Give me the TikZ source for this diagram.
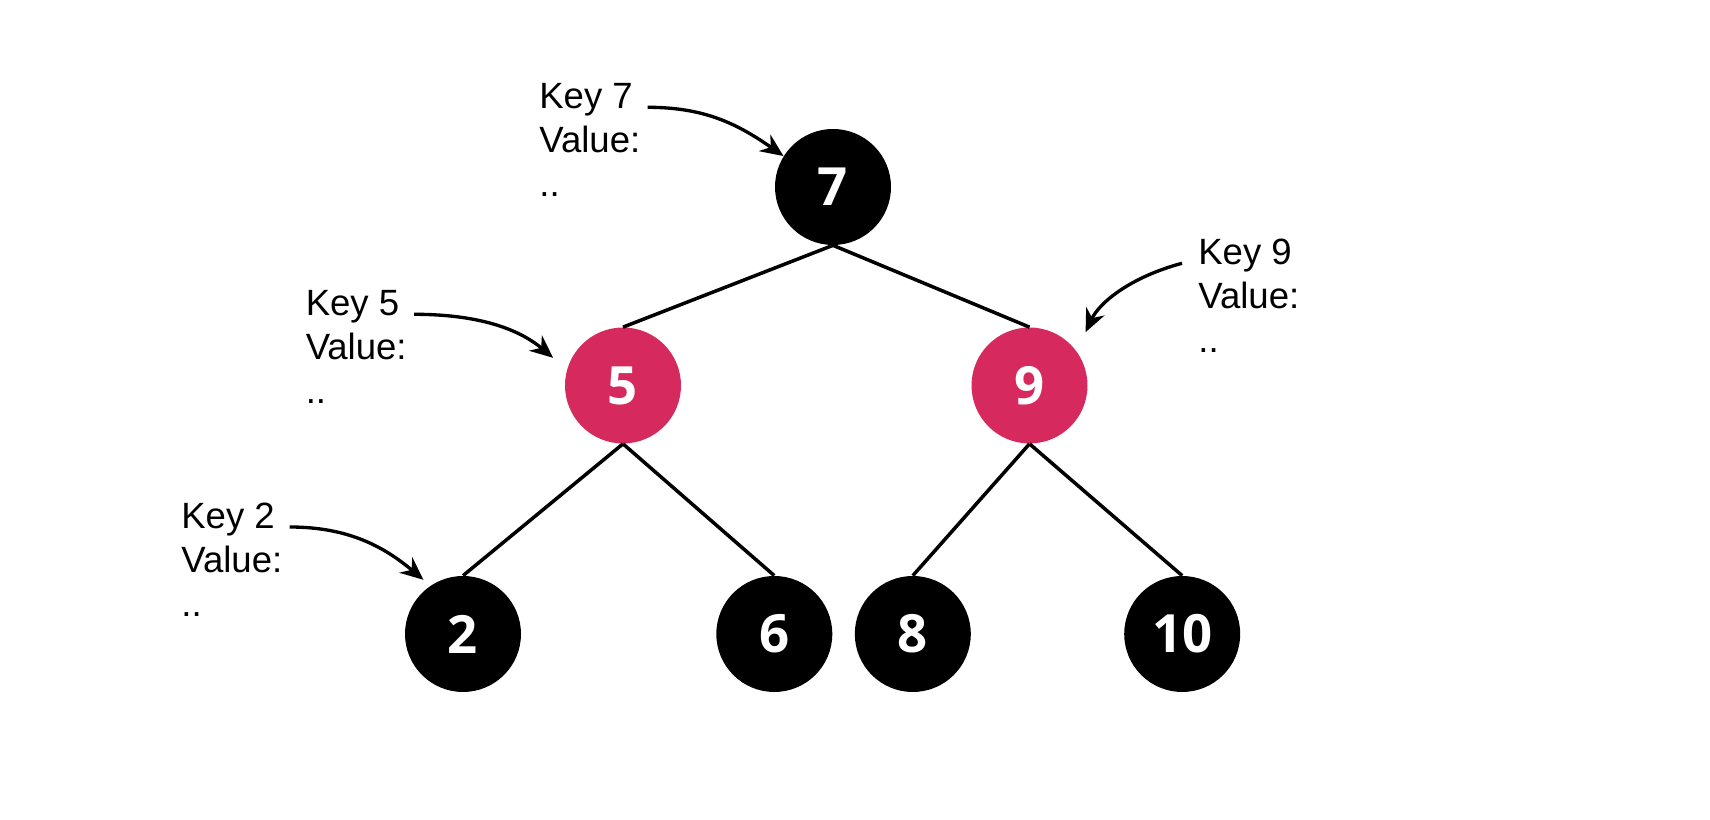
\documentclass[tikz,border=0pt]{standalone}
\usepackage{fontspec}
\setmainfont{Liberation Sans}
\newfontfamily\digitfont{Open Sans}
\usetikzlibrary{arrows.meta}
\definecolor{rbred}{HTML}{D62A5E}

\begin{document}
\begin{tikzpicture}[
    x = 0.02cm,
    y = 0.02cm,
    treenode/.style = {
        circle,
        minimum size = 2.32cm,
        inner sep = 0pt,
        text = white,
        font = \digitfont\bfseries\fontsize{30}{30}\selectfont
    },
    blacknode/.style = {treenode, fill = black},
    rednode/.style = {treenode, fill = rbred},
    keylabel/.style = {
        anchor = north west,
        align = left,
        inner sep = 0pt,
        font = \fontsize{20.8}{25}\selectfont
    },
    edge/.style = {line width = 2pt},
    pointer/.style = {-{Stealth[length = 0.46cm, width = 0.4cm]}, line width = 1.9pt}
]

\useasboundingbox (0, 0) rectangle (1710, 820);

% Tree nodes
\node[blacknode] (n7) at (833, 633) {7};
\node[rednode] (n5) at (623, 434.5) {5};
\node[rednode] (n9) at (1029.5, 434.5) {9};
\node[blacknode] (n2) at (463, 186) {2};
\node[blacknode] (n6) at (774.3, 186) {6};
\node[blacknode] (n8) at (912.8, 186) {8};
\node[blacknode] (n10) at (1182.2, 186) {10};

% Tree edges
\draw[edge] (n7.south) -- (n5.north);
\draw[edge] (n7.south) -- (n9.north);
\draw[edge] (n5.south) -- (n2.north);
\draw[edge] (n5.south) -- (n6.north);
\draw[edge] (n9.south) -- (n8.north);
\draw[edge] (n9.south) -- (n10.north);

% Key / value labels
\node[keylabel] (k7) at (539, 736.7) {Key 7 \\ Value: \\ ..};
\node[keylabel] (k5) at (305.4, 529.7) {Key 5 \\ Value: \\ ..};
\node[keylabel] (k2) at (181, 317) {Key 2 \\ Value: \\ ..};
\node[keylabel] (k9) at (1198, 581.7) {Key 9 \\ Value: \\ ..};

% Pointers to the nodes
\draw[pointer] ([shift = {(7, -24)}]k7.north east) to[out = 0, in = 145] (n7.148);
\draw[pointer, shorten > = 0.36cm] ([shift = {(7, -24)}]k5.north east) to[out = 0, in = 140] (n5.164);
\draw[pointer, shorten > = 0.18cm] ([shift = {(7, -24)}]k2.north east) to[out = 0, in = 140] (n2.124);
\draw[pointer, shorten > = 0.42cm] ([shift = {(-16, -25)}]k9.north west) to[out = 195, in = 65] (n9.36);

\end{tikzpicture}
\end{document}
